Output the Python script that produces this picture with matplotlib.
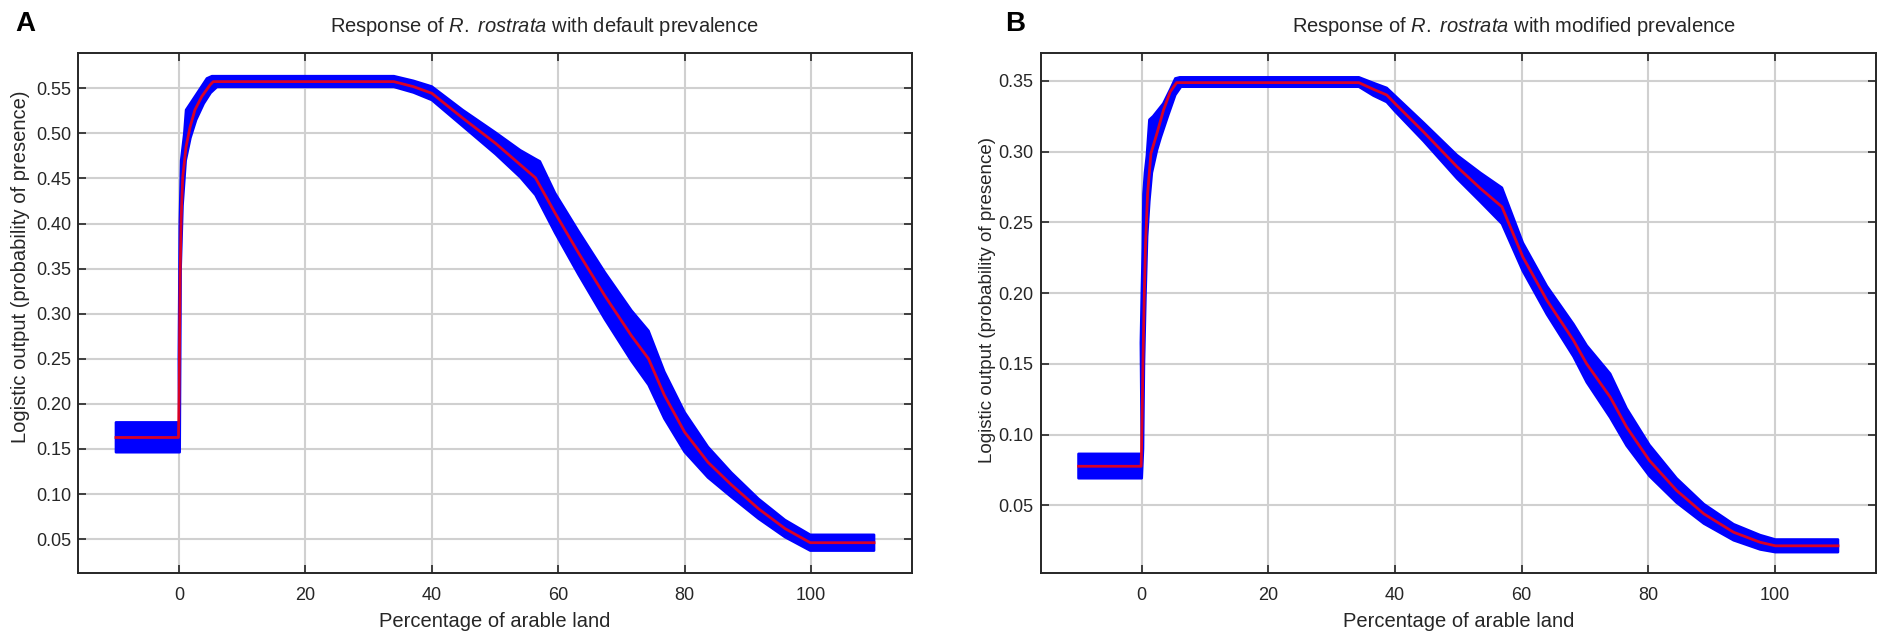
import numpy as np
import matplotlib
matplotlib.use("Agg")
import matplotlib.pyplot as plt

plt.rcParams['font.family'] = ['Liberation Sans', 'DejaVu Sans']
plt.rcParams['mathtext.fontset'] = 'custom'
plt.rcParams['mathtext.rm'] = 'Liberation Sans'
plt.rcParams['mathtext.it'] = 'Liberation Sans:italic'

# ---------------- Panel A (default prevalence) ----------------
a_mean_x = [-10, -0.1, 0.0, 0.16, 0.32, 0.58, 1.1, 1.74, 2.5, 3.6, 4.9, 5.4, 34.0, 37.1, 40, 44.9, 50.1,
            56.4, 59.5, 63.2, 67.4, 71.6, 74.3, 76.8, 80.0, 83.7, 87.4, 91.7, 95.9, 99.9, 110]
a_mean_y = [0.1627, 0.1627, 0.21, 0.341, 0.404, 0.452, 0.485, 0.507, 0.526, 0.541, 0.5537, 0.5574, 0.5574,
            0.5518, 0.5445, 0.5169, 0.4889, 0.4507, 0.4118, 0.3676, 0.3197, 0.2755, 0.25, 0.2097, 0.1688,
            0.1353, 0.1103, 0.0837, 0.0617, 0.046, 0.046]
a_up_x = [-10, 0.0, -0.05, 0.1, 0.32, 0.82, 1.1, 2.8, 4.4, 5.2, 34.0, 37.1, 40, 44.9, 50.1, 54.0, 56.4, 57.1,
          59.5, 63.2, 67.4, 71.6, 74.3, 76.8, 80.0, 83.7, 87.4, 91.7, 95.9, 99.9, 110]
a_up_y = [0.1795, 0.1795, 0.25, 0.40, 0.47, 0.50, 0.526, 0.544, 0.561, 0.5635, 0.5635, 0.5583, 0.552, 0.5259,
          0.5009, 0.4813, 0.4717, 0.469, 0.4338, 0.3916, 0.3457, 0.3035, 0.281, 0.2357, 0.1908, 0.1523,
          0.1238, 0.0947, 0.0712, 0.0548, 0.0548]
a_lo_x = [-10, 0.1, 0.25, 0.55, 1.05, 1.8, 2.7, 3.9, 5.0, 6.0, 34.0, 37.1, 40, 44.9, 50.1, 54.0, 56.4, 59.5,
          63.2, 67.4, 71.6, 74.3, 76.8, 80.0, 83.7, 87.4, 91.7, 95.9, 99.9, 110]
a_lo_y = [0.1463, 0.1463, 0.35, 0.42, 0.47, 0.495, 0.515, 0.533, 0.545, 0.5515, 0.5515, 0.5453, 0.537,
          0.5079, 0.4769, 0.4513, 0.4317, 0.3898, 0.3436, 0.2937, 0.2475, 0.221, 0.1837, 0.1468, 0.1183,
          0.0968, 0.0727, 0.0522, 0.0372, 0.0372]

# ---------------- Panel B (modified prevalence) ----------------
b_mean_x = [-10, -0.1, 0.05, 0.19, 0.4, 0.6, 0.92, 1.45, 2.4, 3.44, 4.5, 5.5, 34.3, 36.6, 38.7, 40, 44.5,
            49.8, 53.5, 56.9, 60.2, 64, 68.2, 70.3, 74, 76.6, 80.2, 84.5, 88.8, 93.5, 97.7, 100.1, 110]
b_mean_y = [0.0777, 0.0777, 0.11, 0.1525, 0.1997, 0.235, 0.2704, 0.2987, 0.3129, 0.3294, 0.3423, 0.3487,
            0.3487, 0.344, 0.340, 0.334, 0.314, 0.2893, 0.274, 0.261, 0.2256, 0.195, 0.1667, 0.150, 0.1266,
            0.1054, 0.0818, 0.0606, 0.0441, 0.0311, 0.024, 0.0215, 0.0215]
b_up_x = [-10, 0.0, -0.15, 0.0, 0.16, 0.26, 0.5, 0.8, 1.2, 1.8, 3.4, 4.5, 5.3, 6.0, 34.3, 36.6, 38.7, 40,
          44.5, 49.8, 53.5, 56.9, 60.2, 64, 68.2, 70.3, 74, 76.6, 80.2, 84.5, 88.8, 93.5, 97.7, 100.1, 110]
b_up_y = [0.0865, 0.0865, 0.165, 0.20, 0.232, 0.27, 0.285, 0.297, 0.3225, 0.325, 0.334, 0.344, 0.3517,
          0.3525, 0.3525, 0.3485, 0.345, 0.3395, 0.3205, 0.2975, 0.285, 0.2745, 0.2356, 0.205, 0.1782, 0.163,
          0.1431, 0.1186, 0.0928, 0.0692, 0.051, 0.0368, 0.0291, 0.026, 0.026]
b_lo_x = [-10, 0.0, 0.2, 0.35, 0.6, 0.85, 1.2, 1.6, 2.4, 3.0, 4.2, 5.3, 6.2, 34.3, 36.6, 38.7, 40, 44.5,
          49.8, 53.5, 56.9, 60.2, 64, 68.2, 70.3, 74, 76.6, 80.2, 84.5, 88.8, 93.5, 97.7, 100.1, 110]
b_lo_y = [0.0692, 0.0692, 0.09, 0.15, 0.2, 0.24, 0.265, 0.285, 0.301, 0.31, 0.326, 0.340, 0.3458, 0.3458,
          0.3395, 0.335, 0.3285, 0.3075, 0.281, 0.2645, 0.249, 0.2156, 0.185, 0.1552, 0.137, 0.1121, 0.0922,
          0.0708, 0.052, 0.0372, 0.0254, 0.0189, 0.017, 0.017]

x_ticks = [0, 20, 40, 60, 80, 100]
a_yticks = [0.05, 0.10, 0.15, 0.20, 0.25, 0.30, 0.35, 0.40, 0.45, 0.50, 0.55]
b_yticks = [0.05, 0.10, 0.15, 0.20, 0.25, 0.30, 0.35]

titles = ["default", "modified"]
xlabel = "Percentage of arable land"
ylabel = "Logistic output (probability of presence)"

W, H = 1878, 634
fig = plt.figure(figsize=(W / 100, H / 100), dpi=100)

DARK = '#262626'


def panel(rect, mx, my, ux, uy, lx, ly, yticks, ylim, title_word, title_x, letter, letter_x,
          ylab_x, ylab_y, ylab_size):
    ax = fig.add_axes(rect)
    ax.set_axisbelow(True)
    px = np.concatenate([np.asarray(ux, float), np.asarray(lx, float)[::-1]])
    py = np.concatenate([np.asarray(uy, float), np.asarray(ly, float)[::-1]])
    ax.fill(px, py, facecolor='#0000ff', edgecolor='#0000ff', linewidth=1.8, joinstyle='round', zorder=2)
    ax.plot(mx, my, color='#ff0000', linewidth=2.0, alpha=0.85, zorder=3, solid_joinstyle='round')
    ax.set_xlim(-16, 116)
    ax.set_ylim(*ylim)
    ax.set_xticks(x_ticks)
    ax.set_yticks(yticks)
    ax.set_yticklabels([f"{v:.2f}" for v in yticks])
    ax.grid(True, color='#d0d0d0', linewidth=1.5)
    ax.tick_params(direction='in', top=True, right=True, length=6, width=1.2, colors=DARK,
                   labelsize=13)
    ax.tick_params(axis='x', pad=10)
    ax.tick_params(axis='y', pad=5)
    for s in ax.spines.values():
        s.set_color(DARK)
        s.set_linewidth(1.4)
    ax.set_xlabel(xlabel, fontsize=14.5, color=DARK, labelpad=6)
    fig.text(title_x / W, 1 - 26 / H, "Response of $\\it{R.\\ rostrata}$ with " + title_word + " prevalence",
             ha='center', va='center', fontsize=14.5, color=DARK)
    fig.text(letter_x / W, 1 - 24 / H, letter, ha='left', va='center', fontsize=20,
             fontweight='bold', color='black')
    fig.text(ylab_x / W, 1 - ylab_y / H, ylabel, rotation=90, ha='center', va='center',
             fontsize=ylab_size, color=DARK)
    return ax


panel([78 / W, 1 - 573 / H, 834 / W, 520.5 / H], a_mean_x, a_mean_y, a_up_x, a_up_y, a_lo_x, a_lo_y,
      a_yticks, (0.0124, 0.5897), titles[0], 544, "A", 15, 21, 267, 14.5)
panel([1040.5 / W, 1 - 573 / H, 835.5 / W, 520.5 / H], b_mean_x, b_mean_y, b_up_x, b_up_y, b_lo_x, b_lo_y,
      b_yticks, (0.0023, 0.37), titles[1], 1514, "B", 1005, 987, 300, 13.5)

fig.savefig("out.png", dpi=100)
